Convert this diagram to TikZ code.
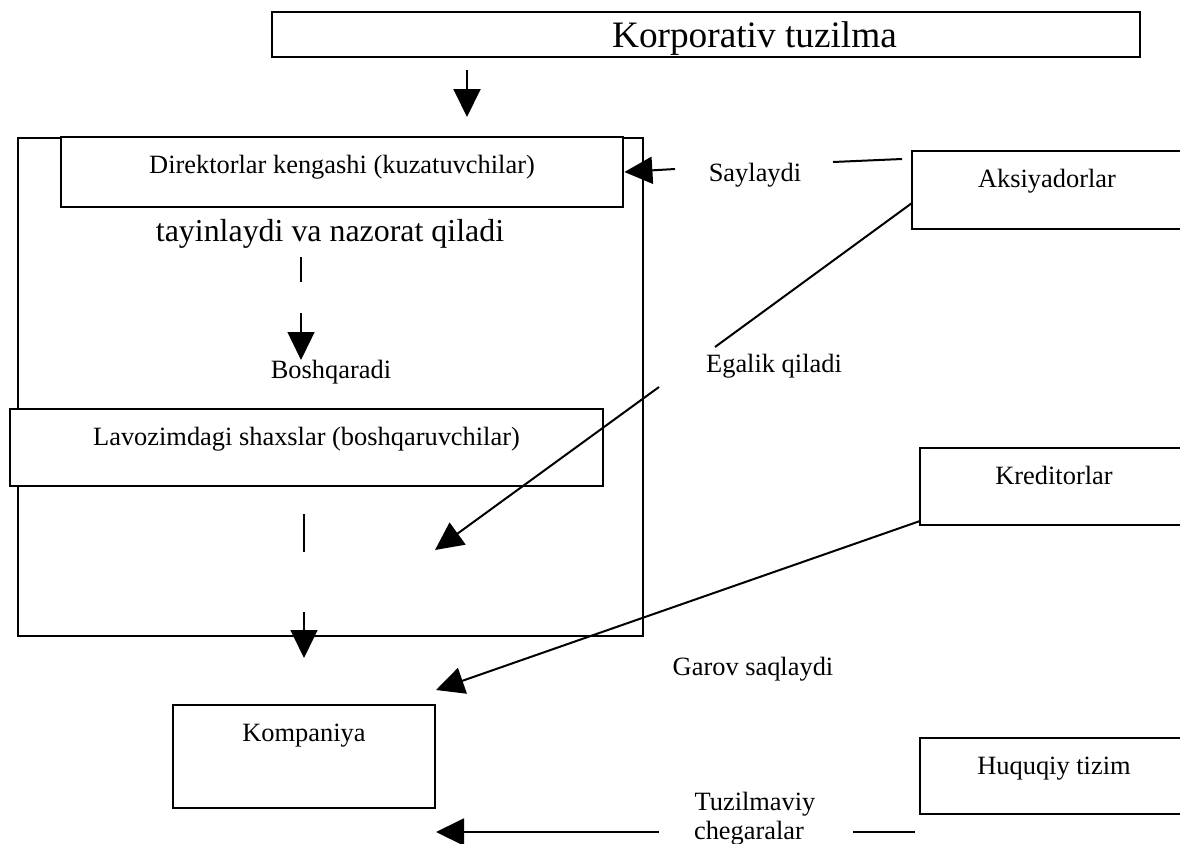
\documentclass[tikz,border=0pt]{standalone}
\usepackage{fontspec}
\setmainfont{Liberation Serif}
\usetikzlibrary{arrows.meta}
\begin{document}
\begin{tikzpicture}[x=1pt,y=-1pt,
  box/.style={draw, line width=2.8pt, fill=white, inner xsep=0pt, inner ysep=0pt,
    text height=36pt, font=\fontsize{26.4}{30}\selectfont},
  lbl/.style={anchor=base, inner sep=0pt, font=\fontsize{26.4}{30}\selectfont},
  conn/.style={line width=2pt},
  arr/.style={-{Triangle[length=28pt,width=27pt]}},
  dashconn/.style={line width=1.4pt}
]
\useasboundingbox (0,0) rectangle (1180,843);

% outer frame
\node[draw, line width=2.8pt, minimum width=625pt, minimum height=498pt, inner sep=0pt] (outer) at (330.5,387) {};

% boxes
\node[box, minimum width=868pt, text depth=9pt, font=\fontsize{37.3}{40}\selectfont] (title) at (706,34.5) {\hspace*{97pt}Korporativ tuzilma};
\node[box, minimum width=562pt, text depth=34pt] (dir) at (342,172) {Direktorlar kengashi (kuzatuvchilar)};
\node[box, minimum width=593pt, text depth=41pt] (lav) at (306.5,447.5) {Lavozimdagi shaxslar (boshqaruvchilar)};
\node[box, minimum width=270pt, text depth=42pt] (aks) at (1047,190) {Aksiyadorlar};
\node[box, minimum width=268pt, text depth=41pt] (kred) at (1054,486.5) {Kreditorlar};
\node[box, minimum width=268pt, text depth=40pt] (huq) at (1054,776) {Huquqiy tizim};
\node[box, minimum width=262pt, text depth=67pt] (komp) at (304,756.5) {Kompaniya};

% labels
\node[lbl, font=\fontsize{31.9}{36}\selectfont] (tay) at (330,241) {tayinlaydi va nazorat qiladi};
\node[lbl] (sayl) at (755,181) {Saylaydi};
\node[lbl] (egal) at (774,372) {Egalik qiladi};
\node[lbl] (bosh) at (331,378) {Boshqaradi};
\node[lbl] (garov) at (753,675) {Garov saqlaydi};
\node[lbl] (tuzA) at (755,810) {Tuzilmaviy};
\node[lbl] (tuzB) at (749,839) {chegaralar};

% connector points
\coordinate (t1) at (467,70);
\coordinate (t2) at (467,117);
\coordinate (s1) at (902,159);
\coordinate (s2) at (833,162);
\coordinate (s3) at (675,169);
\coordinate (e1) at (912,203);
\coordinate (e2) at (715,347);
\coordinate (e3) at (659,387);
\coordinate (e4) at (435,550);
\coordinate (d1) at (301,257);
\coordinate (d2) at (301,360);
\coordinate (l1) at (304,514);
\coordinate (l2) at (304,658);
\coordinate (k1) at (920,521);
\coordinate (k2) at (436,690);
\coordinate (h1) at (915,832);
\coordinate (h2) at (853,832);
\coordinate (h3) at (659,832);
\coordinate (h4) at (436,832);

% connectors
\draw[conn, arr] (t1) -- (t2);
\draw[conn] (s1) -- (s2);
\draw[conn, arr] (s3) -- (dir.east);
\draw[conn] (e1) -- (e2);
\draw[conn, arr] (e3) -- (e4);
\draw[dashconn, dash pattern=on 25pt off 31pt, arr] (d1) -- (d2);
\draw[dashconn, dash pattern=on 38pt off 60pt, arr] (l1) -- (l2);
\draw[conn, arr] (k1) -- (k2);
\draw[conn] (h1) -- (h2);
\draw[conn, arr] (h3) -- (h4);
\end{tikzpicture}
\end{document}
